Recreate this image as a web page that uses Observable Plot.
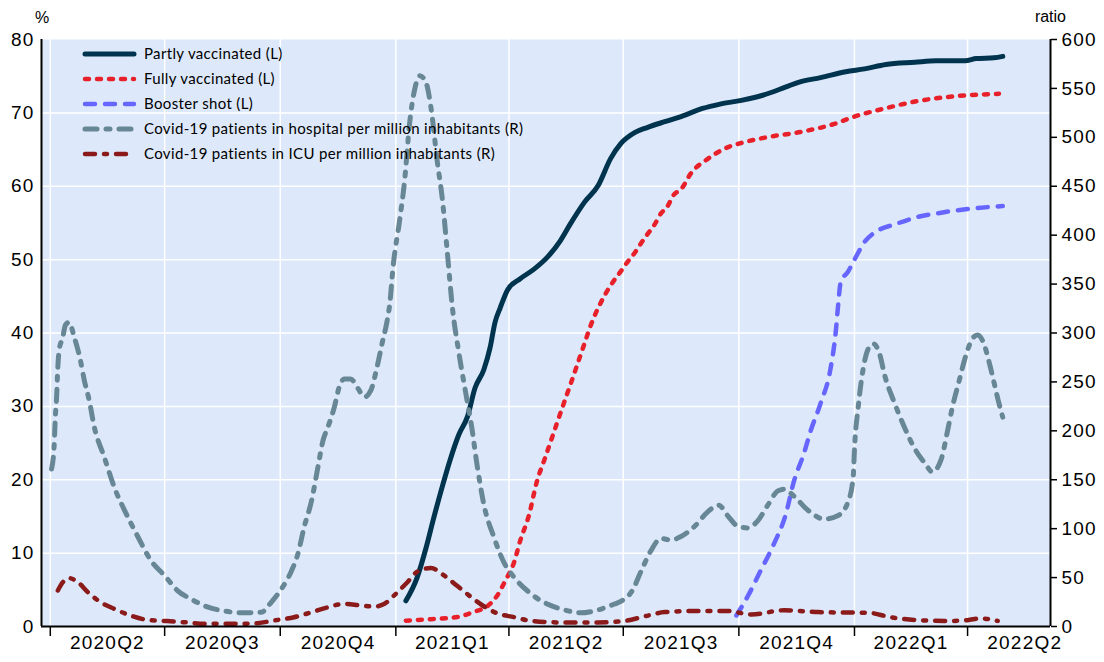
<!DOCTYPE html>
<html><head><meta charset="utf-8">
<script src="https://cdn.jsdelivr.net/npm/d3@7"></script>
<script src="https://cdn.jsdelivr.net/npm/@observablehq/plot@0.6"></script>
<style>
body{margin:0;background:#fff;}
#wrap{position:relative;width:1104px;height:662px;}
#overlay{position:absolute;left:0;top:0;pointer-events:none;}
g[aria-label="x-axis tick label"] text, g[aria-label="y-axis tick label"] text {letter-spacing:1.2px;}
</style></head><body><div id="wrap"></div>
<script>
// ---- data ----
const seriesNames = [
  "Partly vaccinated (L)",
  "Fully vaccinated (L)",
  "Booster shot (L)",
  "Covid-19 patients in hospital per million inhabitants (R)",
  "Covid-19 patients in ICU per million inhabitants (R)"
];
const seriesColors = ["#00344e", "#e8202a", "#6666ff", "#688796", "#8b1a1a"];
const seriesDash = [null, "4,8", "10,10", "12,9,4,9", "10,9,3,9"];
const seriesWidth = [5, 4.5, 4.5, 5, 4.5];
const seriesAxis = ["L", "L", "L", "R", "R"];

const partlyDates = ["2021-01-09","2021-01-18","2021-01-25","2021-01-31","2021-02-07","2021-02-13","2021-02-20","2021-02-27","2021-03-05","2021-03-12","2021-03-17","2021-03-21","2021-03-25","2021-03-31","2021-04-10","2021-04-21","2021-05-02","2021-05-12","2021-05-20","2021-05-31","2021-06-11","2021-06-21","2021-06-29","2021-07-10","2021-07-20","2021-08-03","2021-08-16","2021-09-02","2021-09-16","2021-10-03","2021-10-20","2021-11-07","2021-11-18","2021-12-05","2021-12-25","2022-01-09","2022-01-26","2022-02-18","2022-03-07","2022-03-30","2022-04-08","2022-04-22","2022-04-29"];
const partlyValues = [3.5,6.7,10.7,14.7,19.1,22.6,26.1,28.6,32.5,35,38,41.5,43.4,45.9,47.4,48.7,50.4,52.6,54.9,57.8,60.1,63.8,65.8,67.3,68,68.8,69.5,70.6,71.2,71.7,72.4,73.5,74.2,74.8,75.6,76,76.6,76.9,77.1,77.1,77.4,77.5,77.7];

const fullyDates = ["2021-01-09","2021-01-29","2021-02-19","2021-03-04","2021-03-15","2021-03-23","2021-03-29","2021-04-05","2021-04-10","2021-04-17","2021-04-23","2021-04-30","2021-05-07","2021-05-13","2021-05-20","2021-05-25","2021-05-31","2021-06-05","2021-06-13","2021-06-21","2021-06-29","2021-07-04","2021-07-10","2021-07-15","2021-07-20","2021-07-26","2021-07-31","2021-08-05","2021-08-10","2021-08-16","2021-08-24","2021-09-06","2021-09-22","2021-10-03","2021-10-24","2021-11-19","2021-12-16","2022-01-01","2022-01-25","2022-02-20","2022-03-18","2022-04-26"];
const fullyValues = [0.8,1.0,1.3,2.0,2.8,4.3,6.2,8.7,11.7,15.2,19.6,23.1,26.6,29.6,33,35.5,38.5,41,44.1,46.5,48.4,49.6,50.9,52.2,53.4,54.8,56.3,57.2,58.8,59.6,61.8,63.7,65.3,65.9,66.7,67.4,68.5,69.5,70.6,71.6,72.2,72.6];

const boosterDates = ["2021-09-29","2021-10-08","2021-10-18","2021-10-29","2021-11-07","2021-11-14","2021-11-22","2021-11-27","2021-12-05","2021-12-13","2021-12-17","2021-12-19","2021-12-21","2021-12-27","2022-01-01","2022-01-09","2022-01-19","2022-02-02","2022-02-20","2022-03-11","2022-04-01","2022-04-29"];
const boosterValues = [1.5,4.1,7.5,11.3,15.1,19.9,23.7,26.6,30.4,35.2,40,43.8,46.9,48.4,50,52.4,53.9,54.8,55.8,56.4,56.9,57.3];

const hospitalDates = ["2020-04-02","2020-04-04","2020-04-05","2020-04-06","2020-04-07","2020-04-08","2020-04-11","2020-04-13","2020-04-16","2020-04-20","2020-04-25","2020-04-28","2020-05-02","2020-05-06","2020-05-14","2020-05-22","2020-05-30","2020-06-10","2020-06-20","2020-07-01","2020-07-11","2020-07-22","2020-08-04","2020-08-17","2020-08-31","2020-09-16","2020-09-24","2020-10-02","2020-10-10","2020-10-15","2020-10-20","2020-10-26","2020-10-31","2020-11-04","2020-11-08","2020-11-13","2020-11-17","2020-11-21","2020-11-26","2020-12-02","2020-12-07","2020-12-12","2020-12-17","2020-12-21","2020-12-25","2020-12-27","2020-12-30","2021-01-04","2021-01-08","2021-01-12","2021-01-16","2021-01-20","2021-01-25","2021-01-29","2021-02-03","2021-02-07","2021-02-11","2021-02-15","2021-02-20","2021-02-26","2021-03-02","2021-03-07","2021-03-12","2021-03-20","2021-03-28","2021-04-05","2021-04-18","2021-05-02","2021-05-15","2021-05-28","2021-06-11","2021-06-24","2021-06-29","2021-07-08","2021-07-15","2021-07-23","2021-07-31","2021-08-08","2021-08-16","2021-08-27","2021-09-06","2021-09-15","2021-09-22","2021-09-30","2021-10-08","2021-10-16","2021-10-24","2021-11-01","2021-11-06","2021-11-14","2021-11-25","2021-12-08","2021-12-19","2021-12-27","2021-12-31","2022-01-01","2022-01-04","2022-01-08","2022-01-12","2022-01-16","2022-01-21","2022-01-25","2022-02-02","2022-02-10","2022-02-18","2022-02-26","2022-03-04","2022-03-11","2022-03-16","2022-03-20","2022-03-25","2022-03-31","2022-04-05","2022-04-09","2022-04-14","2022-04-18","2022-04-22","2022-04-26","2022-04-29"];
const hospitalValues = [161,183,214,234,265,282,296,308,311,296,272,252,231,204,173,142,119,91,67.5,52,37,28,20,16,14,14.6,25,38.5,57,74,101.5,129,163,190,204,224,245,253,253,243,234.5,241,265,289,312,328,370,415,456,515,549,563,556,530,475,437,382,326,281,236,207,162,125,91.5,65.5,50.5,34,22.7,17,14,17,23,25.6,36.3,56,77.5,90,88.4,92,102.7,117,124,113.4,102.7,100.8,108,124,138.6,140.4,133,118.8,109.8,113.4,127.8,153,181.6,224.7,264,284,289,278.5,257,228,203,181.6,167,158,170.8,199.5,224.7,249.7,278.5,294.6,298,289,271,249.7,228,214];

const icuDates = ["2020-04-07","2020-04-11","2020-04-16","2020-04-23","2020-05-01","2020-05-11","2020-05-22","2020-06-04","2020-06-17","2020-07-03","2020-07-16","2020-08-04","2020-08-31","2020-09-13","2020-09-26","2020-10-12","2020-10-26","2020-11-08","2020-11-21","2020-12-04","2020-12-15","2020-12-23","2020-12-30","2021-01-10","2021-01-18","2021-01-29","2021-02-08","2021-02-19","2021-03-02","2021-03-12","2021-03-23","2021-04-05","2021-04-18","2021-05-15","2021-06-11","2021-07-02","2021-07-18","2021-08-03","2021-08-27","2021-09-22","2021-10-11","2021-11-06","2021-12-03","2022-01-12","2022-01-30","2022-02-20","2022-03-18","2022-04-01","2022-04-11","2022-04-25"];
const icuValues = [36.8,45.3,49.4,45.3,35,24.9,18,11.2,6.8,5.5,4.4,2.7,2.7,3.4,6.1,9.5,14.6,19.7,23.2,21.5,20.4,23.2,31,45,56,59.8,52.5,41.3,30,20.7,13.3,9.6,5.9,4.1,4.1,5.7,10.4,14.7,15.8,15.8,12.3,16.6,14.7,14,9.4,6.5,5.7,6.5,8.3,5.7];

const quarterStarts = ["2020-04-01","2020-07-01","2020-10-01","2021-01-01","2021-04-01","2021-07-01","2021-10-01","2022-01-01","2022-04-01"];
const quarterLabels = ["2020Q2","2020Q3","2020Q4","2021Q1","2021Q2","2021Q3","2021Q4","2022Q1","2022Q2"];
const leftTicks = [0,10,20,30,40,50,60,70,80];
const rightTicks = [0,50,100,150,200,250,300,350,400,450,500,550,600];
const xDomain = ["2020-03-25","2022-06-06"];

// ---- build ----
const leftMax = 80, rightMax = 600, k = leftMax / rightMax;
const seriesDates = [partlyDates, fullyDates, boosterDates, hospitalDates, icuDates];
const seriesValues = [partlyValues, fullyValues, boosterValues, hospitalValues, icuValues];
const parse = d3.utcParse("%Y-%m-%d");
const rows = seriesNames.map((name, s) => seriesDates[s].map((d, i) => ({
  date: parse(d),
  y: seriesAxis[s] === "R" ? seriesValues[s][i] * k : seriesValues[s][i],
  series: name
})));

const qStart = quarterStarts.map(parse);
const qMid = quarterLabels.map(l => {
  const yr = +l.slice(0, 4), q = +l.slice(5);
  const a = Date.UTC(yr, (q - 1) * 3, 1), b = Date.UTC(yr, q * 3, 1);
  return new Date((a + b) / 2);
});
const qLabelByTime = new Map(qMid.map((d, i) => [+d, quarterLabels[i]]));

const W = 1104, H = 662, mL = 41, mR = 54, mT = 39, mB = 36;
const bg = "#dde9fa";

const chart = Plot.plot({
  width: W, height: H,
  marginLeft: mL, marginRight: mR, marginTop: mT, marginBottom: mB,
  style: {fontFamily: "'Liberation Sans', Arial, sans-serif", background: "white", color: "black"},
  x: {type: "utc", domain: xDomain.map(parse), label: null},
  y: {domain: [0, leftMax], label: null},
  marks: [
    Plot.frame({fill: bg, stroke: null}),
    Plot.gridY(leftTicks.filter(v => v > 0 && v < leftMax), {stroke: "white", strokeOpacity: 1, strokeWidth: 1.5}),
    Plot.gridX(qStart, {stroke: "white", strokeOpacity: 1, strokeWidth: 1.5}),
    ...rows.map((data, s) => Plot.line(data, {
      x: "date", y: "y", stroke: seriesColors[s], strokeWidth: seriesWidth[s],
      strokeDasharray: seriesDash[s], strokeLinecap: "round", strokeLinejoin: "round",
      curve: "monotone-x"
    })),
    Plot.ruleY([0], {stroke: "black", strokeWidth: 2}),
    Plot.ruleX([parse(xDomain[0])], {stroke: "black", strokeWidth: 2}),
    Plot.ruleX([parse(xDomain[1])], {stroke: "black", strokeWidth: 2}),
    Plot.axisX(qStart, {tickSize: 10, tickFormat: () => "", strokeWidth: 1.5, label: null}),
    Plot.axisX(qMid, {tickSize: 0, tickPadding: 9, tickFormat: d => qLabelByTime.get(+d), fontSize: 19, label: null}),
    Plot.axisY(leftTicks, {anchor: "left", tickSize: 0, tickPadding: 7, fontSize: 19, label: null}),
    Plot.axisY(rightTicks.map(r => r * k), {anchor: "right", tickSize: 6, tickPadding: 5, strokeWidth: 1.5,
      tickFormat: d => String(Math.round(d / k)), fontSize: 19, label: null})
  ]
});

const wrap = document.getElementById("wrap");
wrap.appendChild(chart);

// overlay: axis titles + legend
const ov = d3.select(wrap).append("svg").attr("id", "overlay").attr("width", W).attr("height", H);
ov.append("text").attr("x", mL - 6).attr("y", mT - 16).attr("font-family", "'Liberation Sans', Arial, sans-serif")
  .attr("font-size", 16).text("%");
ov.append("text").attr("x", W - mR + 16).attr("y", mT - 17).attr("text-anchor", "end")
  .attr("font-family", "'Liberation Sans', Arial, sans-serif").attr("font-size", 16).text("ratio");
const lg = ov.append("g").attr("transform", `translate(${mL},${mT})`);
seriesNames.forEach((name, s) => {
  const yy = 15 + s * 25;
  lg.append("line").attr("x1", 44).attr("x2", 93).attr("y1", yy).attr("y2", yy)
    .attr("stroke", seriesColors[s]).attr("stroke-width", seriesWidth[s])
    .attr("stroke-dasharray", seriesDash[s]).attr("stroke-linecap", "round");
  lg.append("text").attr("x", 103).attr("y", yy).attr("dy", "0.35em")
    .attr("font-family", "Lato, 'Open Sans', sans-serif").attr("font-size", 15)
    .attr("letter-spacing", "0.35px").text(name);
});
</script>
</body></html>
